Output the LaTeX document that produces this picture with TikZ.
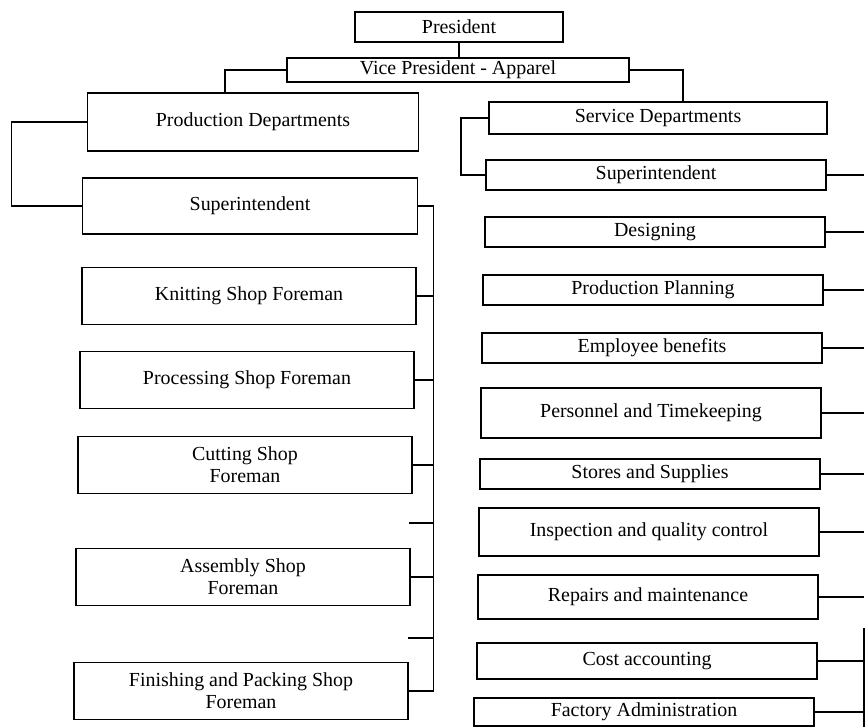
\documentclass[tikz,border=0pt]{standalone}
\usepackage{fontspec}
\setmainfont{Liberation Serif}

\begin{document}
\begin{tikzpicture}[x=0.03cm, y=-0.03cm, line width=1.3pt,
  box/.style={rectangle, draw, inner sep=0pt, align=center, font=\fontsize{17}{19}\selectfont},
  shopbox/.style={box, minimum width=10.02cm, minimum height=1.72cm},
  svcbox/.style={box, minimum width=10.2cm, minimum height=0.9cm}]
  \useasboundingbox (0,0) rectangle (865,728);

  % Nodes
  \node [box, minimum width=6.24cm, minimum height=0.9cm] (pres) at (459,27) {President};
  \node [box, minimum width=10.26cm, minimum height=0.72cm] (vp) at (458,70) {Vice President - Apparel};

  \node [box, minimum width=9.93cm, minimum height=1.74cm] (proddep) at (253,122) {Production Departments};
  \node [box, minimum width=10.05cm, minimum height=1.68cm] (psup) at (250,206) {Superintendent};
  \node [shopbox] (knit) at (249,296) {Knitting Shop Foreman};
  \node [shopbox] (proc) at (247,380) {Processing Shop Foreman};
  \node [shopbox] (cut) at (245,465) {Cutting Shop\\Foreman};
  \node [shopbox] (assem) at (243,577) {Assembly Shop\\Foreman};
  \node [shopbox] (fin) at (241,691) {Finishing and Packing Shop\\Foreman};

  \node [svcbox, minimum width=10.14cm, minimum height=0.96cm] (sdep) at (658,118) {Service Departments};
  \node [svcbox] (ssup) at (656,175) {Superintendent};
  \node [svcbox] (design) at (655,232) {Designing};
  \node [svcbox] (plan) at (653,290) {Production Planning};
  \node [svcbox] (benef) at (652,348) {Employee benefits};
  \node [svcbox, minimum height=1.5cm] (pers) at (651,413) {Personnel and Timekeeping};
  \node [svcbox] (stores) at (650,474) {Stores and Supplies};
  \node [svcbox, minimum height=1.44cm] (insp) at (649,532) {Inspection and quality control};
  \node [svcbox, minimum height=1.32cm] (repair) at (648,597) {Repairs and maintenance};
  \node [svcbox, minimum height=1.08cm] (cost) at (647,661) {Cost accounting};
  \node [svcbox, minimum height=0.84cm] (factory) at (644,712) {Factory Administration};

  \coordinate (stubA) at (409,523);
  \coordinate (stubB) at (408,638);
  \coordinate (rbus) at (864,628);
  \coordinate (rbot) at (864,727);

  % Edges
  \draw (pres.south) -- (pres.south |- vp.north);
  \draw (vp.west) -| ([xshift=-0.84cm]proddep.north);
  \draw (vp.east) -| ([xshift=0.75cm]sdep.north);
  \draw (proddep.west) -- ++(-75,0) |- (psup.west);
  \draw (sdep.west) -- ++(-27,0) |- (ssup.west);

  % Production side
  \draw (psup.east) -- ++(15,0) coordinate (lbus) -- (lbus |- fin.east) -- (fin.east);
  \draw (knit.east) -- (knit.east -| lbus);
  \draw (proc.east) -- (proc.east -| lbus);
  \draw (cut.east) -- (cut.east -| lbus);
  \draw (stubA) -- (stubA -| lbus);
  \draw (assem.east) -- (assem.east -| lbus);
  \draw (stubB) -- (stubB -| lbus);

  % Service side
  \draw (ssup.east) -- (ssup.east -| rbus);
  \draw (design.east) -- (design.east -| rbus);
  \draw (plan.east) -- (plan.east -| rbus);
  \draw (benef.east) -- (benef.east -| rbus);
  \draw (pers.east) -- (pers.east -| rbus);
  \draw (stores.east) -- (stores.east -| rbus);
  \draw (insp.east) -- (insp.east -| rbus);
  \draw (repair.east) -- (repair.east -| rbus);
  \draw (cost.east) -- (cost.east -| rbus);
  \draw (factory.east) -- (factory.east -| rbus);
  \draw (rbus) -- (rbot);
\end{tikzpicture}
\end{document}
